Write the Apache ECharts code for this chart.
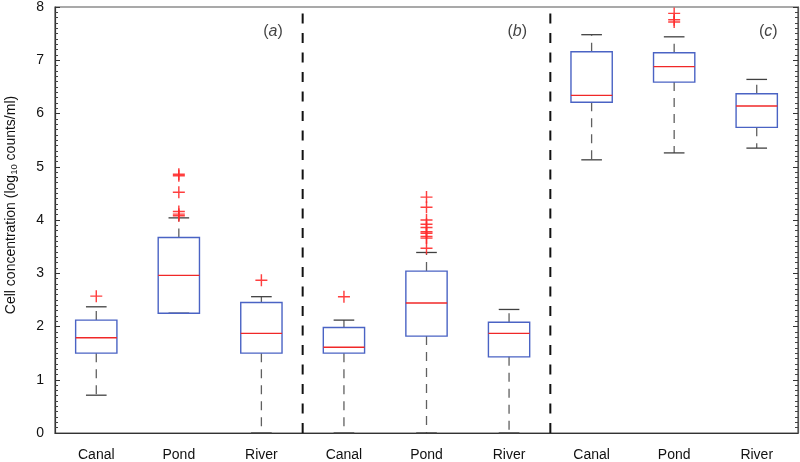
<!DOCTYPE html>
<html>
<head>
<meta charset="utf-8">
<script src="https://cdn.jsdelivr.net/npm/echarts@6/dist/echarts.min.js"></script>
<style>html,body{margin:0;padding:0;background:#fff}#c{width:800px;height:462px}</style>
</head>
<body>
<div id="c"></div>
<script>
// ---- data ----
var categories = ['Canal','Pond','River','Canal','Pond','River','Canal','Pond','River'];
var whiskerLow  = [0.71, 2.25, 0.00, 0.00, 0.00, 0.00, 5.13, 5.26, 5.35];
var q1          = [1.50, 2.25, 1.50, 1.50, 1.82, 1.43, 6.21, 6.59, 5.74];
var median      = [1.79, 2.96, 1.87, 1.61, 2.44, 1.87, 6.34, 6.88, 6.14];
var q3          = [2.12, 3.67, 2.45, 1.98, 3.04, 2.08, 7.16, 7.14, 6.37];
var whiskerHigh = [2.37, 4.04, 2.56, 2.12, 3.39, 2.32, 7.48, 7.44, 6.64];
var outliers = [
  [2.57],
  [4.86, 4.83, 4.52, 4.16, 4.11, 4.08],
  [2.87],
  [2.56],
  [4.43, 4.24, 4.00, 3.92, 3.86, 3.78, 3.75, 3.69, 3.66, 3.47],
  [],
  [],
  [7.88, 7.76, 7.72],
  []
];
var panelLabels = ['a', 'b', 'c'];
var separators = [3.5, 6.5];
var yTicks = [0, 1, 2, 3, 4, 5, 6, 7, 8];

// ---- build ----
var boxData = categories.map(function (c, i) {
  return [i + 1, whiskerLow[i], q1[i], median[i], q3[i], whiskerHigh[i]];
});
var outData = [];
outliers.forEach(function (arr, i) { arr.forEach(function (v) { outData.push([i + 1, v]); }); });

var FONT = '"Liberation Sans", Arial, Helvetica, sans-serif';
var plusPath = 'path://M4.4,0H5.6V4.4H10V5.6H5.6V10H4.4V5.6H0V4.4H4.4Z';

function renderBox(params, api) {
  var x = api.value(0), lo = api.value(1), a = api.value(2), m = api.value(3), b = api.value(4), hi = api.value(5);
  var half = api.size([0.5, 0])[0] / 2;
  var capHalf = api.size([0.25, 0])[0] / 2;
  var pLo = api.coord([x, lo]), pA = api.coord([x, a]), pM = api.coord([x, m]), pB = api.coord([x, b]), pHi = api.coord([x, hi]);
  var whisk = {stroke: '#606060', lineWidth: 1.3, lineDash: [9, 7]};
  var cap = {stroke: '#404040', lineWidth: 1.3};
  var ch = [];
  if (pHi[1] < pB[1]) ch.push({type: 'line', shape: {x1: pB[0], y1: pB[1], x2: pHi[0], y2: pHi[1]}, style: whisk});
  if (pLo[1] > pA[1]) ch.push({type: 'line', shape: {x1: pA[0], y1: pA[1], x2: pLo[0], y2: pLo[1]}, style: whisk});
  ch.push({type: 'line', shape: {x1: pHi[0] - capHalf, y1: pHi[1], x2: pHi[0] + capHalf, y2: pHi[1]}, style: cap});
  ch.push({type: 'line', shape: {x1: pLo[0] - capHalf, y1: pLo[1], x2: pLo[0] + capHalf, y2: pLo[1]}, style: cap});
  ch.push({type: 'rect', shape: {x: pB[0] - half, y: pB[1], width: half * 2, height: pA[1] - pB[1]},
           style: {fill: 'none', stroke: '#4a63c4', lineWidth: 1.4}});
  ch.push({type: 'line', shape: {x1: pM[0] - half, y1: pM[1], x2: pM[0] + half, y2: pM[1]},
           style: {stroke: '#f02828', lineWidth: 1.4}});
  return {type: 'group', children: ch};
}

function renderSep(params, api) {
  var x = api.value(0);
  var p0 = api.coord([x, 0]), p1 = api.coord([x, 8]);
  return {type: 'line', shape: {x1: p0[0], y1: p0[1], x2: p1[0], y2: p1[1]},
          style: {stroke: '#111', lineWidth: 2, lineDash: [10, 9.5]}};
}

var chart = echarts.init(document.getElementById('c'), null, {renderer: 'canvas'});
chart.setOption({
  animation: false,
  backgroundColor: '#fff',
  textStyle: {fontFamily: FONT},
  grid: {left: 55, right: 2, top: 7, bottom: 29, containLabel: false, outerBoundsMode: 'none',
         show: true, borderColor: '#555', borderWidth: 1.2, backgroundColor: 'transparent'},
  xAxis: [
    {type: 'category', data: categories, boundaryGap: true, position: 'bottom',
     axisLine: {show: true, lineStyle: {color: '#333', width: 1.2}},
     axisTick: {show: false},
     axisLabel: {color: '#111', fontSize: 14, fontFamily: FONT, margin: 15}},
    {type: 'value', min: 0.5, max: 9.5, show: false}
  ],
  yAxis: [
    {type: 'value', min: 0, max: 8, interval: 1, position: 'left',
     name: 'Cell concentration (log{sub|10} counts/ml)',
     nameLocation: 'middle', nameGap: 36, nameRotate: 90,
     nameTextStyle: {color: '#111', fontSize: 14, fontFamily: FONT, padding: [0, 0, 0, 30],
       rich: {sub: {fontSize: 9.5, fontFamily: FONT, color: '#111', padding: [6, 0, 0, 0]}}},
     axisLine: {show: true, lineStyle: {color: '#333', width: 1.2}},
     axisTick: {show: true, inside: true, length: 5, lineStyle: {color: '#333'}},
     minorTick: {show: true, splitNumber: 10, length: 3, lineStyle: {color: '#444'}},
     splitLine: {show: false},
     axisLabel: {color: '#111', fontSize: 14, fontFamily: FONT, margin: 11,
       formatter: function (v) { return yTicks.indexOf(v) >= 0 ? String(v) : ''; }}},
    {type: 'value', min: 0, max: 8, interval: 1, position: 'right',
     axisLine: {show: true, lineStyle: {color: '#555', width: 1.2}},
     axisTick: {show: true, inside: true, length: 5, lineStyle: {color: '#333'}},
     minorTick: {show: true, splitNumber: 10, length: 3, lineStyle: {color: '#444'}},
     splitLine: {show: false}, axisLabel: {show: false}}
  ],
  series: [
    {type: 'custom', xAxisIndex: 1, yAxisIndex: 0, data: separators.map(function (s) { return [s]; }),
     renderItem: renderSep, silent: true, z: 1},
    {type: 'custom', xAxisIndex: 1, yAxisIndex: 0, data: boxData, renderItem: renderBox,
     encode: {x: 0, y: [1, 2, 3, 4, 5]}, silent: true, z: 3},
    {type: 'scatter', xAxisIndex: 1, yAxisIndex: 0, data: outData, symbol: plusPath, symbolSize: 12,
     itemStyle: {color: '#ff2a2a', opacity: 0.9}, silent: true, z: 4},
    {type: 'scatter', xAxisIndex: 1, yAxisIndex: 0, symbolSize: 0, silent: true, z: 5,
     data: panelLabels.map(function (l, i) { return {value: [3.14 + 3 * i + (i === 1 ? -0.04 : 0), 7.53], name: l}; }),
     label: {show: true, position: 'inside', color: '#111', fontSize: 16, fontFamily: FONT,
       formatter: function (p) { return '({i|' + p.name + '})'; },
       rich: {i: {fontStyle: 'italic', fontSize: 16, fontFamily: FONT, color: '#111'}}}}
  ]
});
</script>
</body>
</html>
